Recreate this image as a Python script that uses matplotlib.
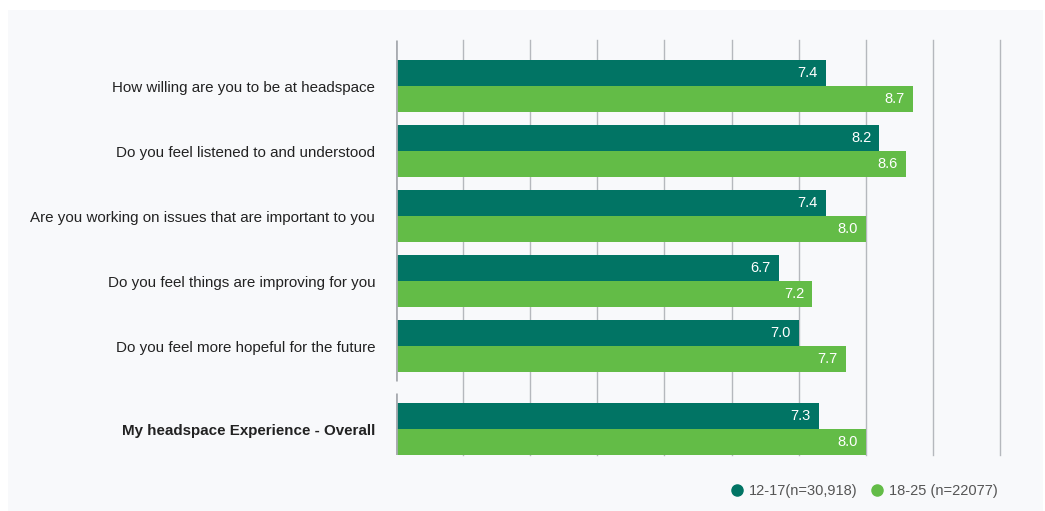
import numpy as np
import matplotlib
matplotlib.use('Agg')
import matplotlib.pyplot as plt
from matplotlib.patches import Rectangle
from matplotlib.lines import Line2D

questions = [
    "How willing are you to be at headspace",
    "Do you feel listened to and understood",
    "Are you working on issues that are important to you",
    "Do you feel things are improving for you",
    "Do you feel more hopeful for the future",
    "My headspace Experience - Overall",
]
young = [7.4, 8.2, 7.4, 6.7, 7.0, 7.3]
older = [8.7, 8.6, 8.0, 7.2, 7.7, 8.0]
series_names = ["12-17(n=30,918)", "18-25 (n=22077)"]

DARK = "#017464"
LIGHT = "#63bc47"
BG = "#f8f9fb"
GRID = "#b5b8bd"

W, H = 1045, 511
plt.rcParams['font.family'] = ['Liberation Sans', 'DejaVu Sans']
fig = plt.figure(figsize=(W / 100, H / 100), dpi=100)
fig.patch.set_facecolor("white")
fig.patches.append(Rectangle((8 / W, 0), 1 - 10 / W, 1 - 10 / H,
                             transform=fig.transFigure, facecolor=BG,
                             edgecolor="none", zorder=-10))

ax = fig.add_axes([396 / W, 56 / H, 604 / W, 415 / H])
ax.set_facecolor("none")

# overall row sits a bit further down than the others
ypos = np.array([0, 1, 2, 3, 4, 5.277])
bh = 0.4
ax.barh(ypos - bh / 2, np.array(young) - 1, left=1, height=bh, color=DARK,
        zorder=3)
ax.barh(ypos + bh / 2, np.array(older) - 1, left=1, height=bh, color=LIGHT,
        zorder=3)

for y, v in zip(ypos, young):
    ax.text(v - 0.12, y - bh / 2, f"{v:.1f}", color="white", fontsize=10.5,
            ha="right", va="center", zorder=4)
for y, v in zip(ypos, older):
    ax.text(v - 0.12, y + bh / 2, f"{v:.1f}", color="white", fontsize=10.5,
            ha="right", va="center", zorder=4)

ax.set_xlim(1, 10)
ax.set_ylim(5.677, -0.708)
for x in range(2, 11):
    ax.axvline(x, color=GRID, lw=1, zorder=1, clip_on=False)
# broken left axis
ax.vlines(1, -0.708, 4.534, color="#a9acb1", lw=2, zorder=5)
ax.vlines(1, 4.718, 5.677, color="#a9acb1", lw=2, zorder=5)

for s in ax.spines.values():
    s.set_visible(False)
ax.set_xticks([])
ax.set_yticks(ypos)
ax.set_yticklabels(questions, fontsize=10.9, color="#222222")
ax.get_yticklabels()[-1].set_fontweight("bold")
ax.tick_params(axis="y", length=0, pad=15)

handles = [Line2D([], [], marker="o", ls="none", color=c, markersize=8)
           for c in (DARK, LIGHT)]
fig.legend(handles, series_names, loc="center right",
           bbox_to_anchor=(1011 / W, 1 - 491 / H), ncol=2, frameon=False,
           fontsize=10.5, labelcolor="#555555", handletextpad=0.35,
           columnspacing=0.8, handlelength=1.0)

fig.savefig("out.png", dpi=100, facecolor=fig.get_facecolor())
